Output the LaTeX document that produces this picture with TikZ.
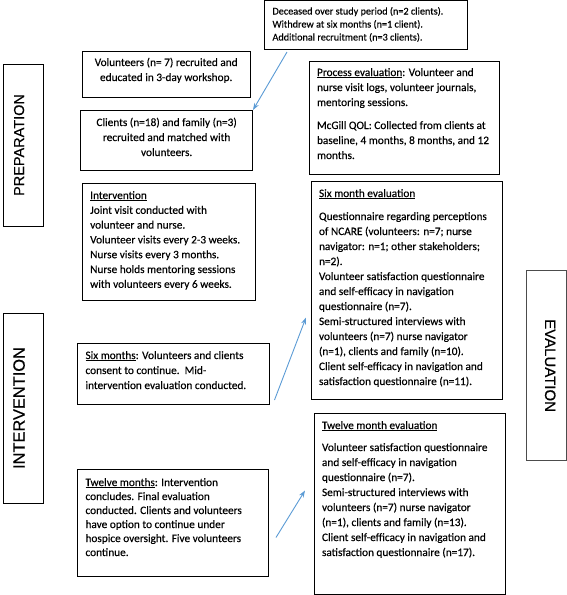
\documentclass[tikz,border=0pt]{standalone}
\usepackage{fontspec}
\setmainfont{Carlito}[UprightFeatures={FakeBold=0.35}]
\newfontfamily\sidefont{Liberation Sans}[UprightFeatures={FakeBold=0.5}]
\usepackage{tikz}
\usetikzlibrary{arrows.meta,positioning}
\usepackage{xcolor}
\definecolor{arrowblue}{RGB}{91,155,213}
\newcommand{\bodyfont}{\fontsize{11.3}{15}\selectfont}
\newcommand{\smallbodyfont}{\fontsize{10.2}{13}\selectfont}
\newcommand{\boxtext}[4][15.5pt]{\parbox[t][#3][t]{#2}{\rule{0pt}{#1}#4}}
\tikzstyle{txtbox} = [draw, anchor=north west, inner xsep=8pt, inner ysep=0pt, line width=1pt, font=\bodyfont]
\tikzstyle{phase} = [draw, line width=1pt, inner sep=0pt, text depth=8pt, font=\sidefont]
\tikzstyle{arrow} = [line width=0.9pt, ->, >={Stealth[length=7pt,width=5pt]}, color=arrowblue]

\begin{document}
\begin{tikzpicture}[x=1pt,y=-1pt]
\useasboundingbox (0,0) rectangle (567,595);

% Phase labels
\node[phase, rotate=90, minimum width=162pt, minimum height=40pt, font=\sidefont\fontsize{14.5}{16}\selectfont] (prep) at (23,145) {PREPARATION};
\node[phase, rotate=90, minimum width=190pt, minimum height=40pt, font=\sidefont\fontsize{16.4}{18}\selectfont] (intphase) at (23,408) {INTERVENTION};
\node[phase, rotate=-90, minimum width=190pt, minimum height=40.5pt, draw=black!70, font=\sidefont\fontsize{15}{17}\selectfont] (evalphase) at (546.3,365.6) {EVALUATION};

% Preparation
\node[txtbox, font=\smallbodyfont] (dec) at (264,0) {\boxtext[14pt]{186.5pt}{48.5pt}{Deceased over study period (n=2 clients).\\
Withdrew at six months (n=1 client).\\
Additional recruitment (n=3 clients).}};
\node[txtbox] (vol) at (81.7,51) {\boxtext[14.5pt]{152pt}{46pt}{\centering Volunteers (n= 7) recruited and\\
educated in 3-day workshop.}};
\node[txtbox] (cli) at (80.3,110) {\boxtext{155.7pt}{60pt}{\centering Clients (n=18) and family (n=3)\\
recruited and matched with\\
volunteers.}};

% Intervention
\node[txtbox, font=\fontsize{11.3}{14.8}\selectfont] (interv) at (81.7,183) {\boxtext{157.3pt}{117pt}{\underline{Intervention}\\
Joint visit conducted with\\
volunteer and nurse.\\
Volunteer visits every 2-3 weeks.\\
Nurse visits every 3 months.\\
Nurse holds mentoring sessions\\
with volunteers every 6 weeks.}};
\node[txtbox] (sixmo) at (77,343) {\boxtext{175.5pt}{61pt}{\underline{Six months}: Volunteers and clients\\
consent to continue.\ \ Mid-\\
intervention evaluation conducted.}};
\node[txtbox, font=\fontsize{11.3}{14}\selectfont] (twelvemo) at (77,469) {\boxtext[16.5pt]{175pt}{107pt}{\underline{Twelve months}: Intervention\\
concludes. Final evaluation\\
conducted. Clients and volunteers\\
have option to continue under\\
hospice oversight. Five volunteers\\
continue.}};

% Evaluation
\node[txtbox] (proc) at (308.5,61) {\boxtext[14.5pt]{174.5pt}{113pt}{\underline{Process evaluation}: Volunteer and\\
nurse visit logs, volunteer journals,\\
mentoring sessions.\\[8pt]
McGill QOL: Collected from clients at\\
baseline, 4 months, 8 months, and 12\\
months.}};
\node[txtbox] (sixeval) at (310.5,181) {\boxtext{175pt}{218pt}{\underline{Six month evaluation}\\[8pt]
Questionnaire regarding perceptions\\
of NCARE (volunteers: n=7; nurse\\
navigator: n=1; other stakeholders;\\
n=2).\\
Volunteer satisfaction questionnaire\\
and self-efficacy in navigation\\
questionnaire (n=7).\\
Semi-structured interviews with\\
volunteers (n=7) nurse navigator\\
(n=1), clients and family (n=10).\\
Client self-efficacy in navigation and\\
satisfaction questionnaire (n=11).}};
\node[txtbox] (twelveeval) at (313.5,413) {\boxtext{175pt}{181pt}{\underline{Twelve month evaluation}\\[7pt]
Volunteer satisfaction questionnaire\\
and self-efficacy in navigation\\
questionnaire (n=7).\\
Semi-structured interviews with\\
volunteers (n=7) nurse navigator\\
(n=1), clients and family (n=13).\\
Client self-efficacy in navigation and\\
satisfaction questionnaire (n=17).}};

% Connections
\draw[arrow] ([xshift=23pt,yshift=-2.5pt]dec.south west) -- (cli.north east);
\draw[arrow] ([xshift=5pt,yshift=5pt]sixmo.south east) -- ([xshift=-4.5pt,yshift=-27pt]sixeval.west);
\draw[arrow] ([xshift=7pt,yshift=-14.5pt]twelvemo.east) -- ([xshift=-8.5pt,yshift=13.5pt]twelveeval.west);
\end{tikzpicture}
\end{document}
